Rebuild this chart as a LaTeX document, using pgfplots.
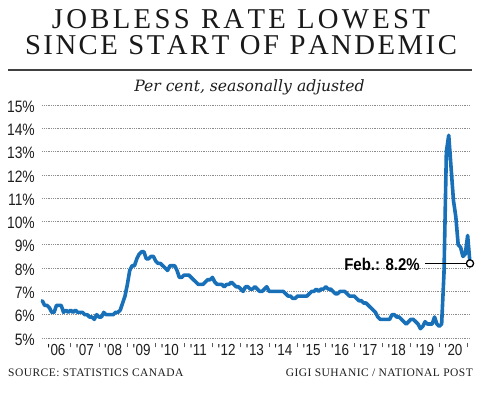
\documentclass[border=0pt]{standalone}
\usepackage{fontspec}
\usepackage{pgfplots}
\usepackage{pgfplotstable}
\pgfplotsset{compat=1.18}
\newfontfamily\cond{Liberation Sans}[FakeStretch=0.84]
\newfontfamily\condb{Liberation Sans}[FakeStretch=0.88]
\newfontfamily\tser{Liberation Serif}[LetterSpace=4]
\newfontfamily\ttlfont{Liberation Serif}
\newfontfamily\subfont{DejaVu Serif}
\definecolor{npblue}{RGB}{24,112,184}
\definecolor{txt}{RGB}{30,30,30}
\pgfplotstableread[row sep=\\]{
v\\
6.6\\6.4\\6.4\\6.3\\6.1\\6.1\\6.4\\6.4\\6.4\\6.1\\6.2\\6.1\\
6.2\\6.1\\6.2\\6.1\\6.1\\6.1\\6.0\\6.0\\5.9\\5.9\\5.8\\6.0\\
5.9\\5.9\\6.1\\6.0\\6.0\\6.0\\6.0\\6.1\\6.1\\6.2\\6.5\\6.8\\
7.3\\7.9\\8.1\\8.1\\8.4\\8.6\\8.7\\8.7\\8.4\\8.4\\8.5\\8.5\\
8.3\\8.2\\8.2\\8.1\\8.0\\7.9\\8.1\\8.1\\8.1\\7.9\\7.6\\7.6\\
7.7\\7.7\\7.7\\7.6\\7.5\\7.4\\7.3\\7.3\\7.3\\7.4\\7.5\\7.5\\
7.6\\7.4\\7.3\\7.3\\7.3\\7.2\\7.3\\7.3\\7.4\\7.3\\7.2\\7.2\\
7.1\\7.0\\7.2\\7.2\\7.1\\7.1\\7.2\\7.1\\7.0\\7.0\\7.1\\7.2\\
7.0\\7.0\\7.0\\7.0\\7.0\\7.0\\7.0\\6.9\\6.8\\6.8\\6.7\\6.7\\
6.8\\6.8\\6.8\\6.8\\6.8\\6.9\\7.0\\7.0\\7.1\\7.0\\7.1\\7.1\\
7.2\\7.1\\7.1\\7.0\\6.9\\6.9\\7.0\\7.0\\7.0\\6.9\\6.8\\6.8\\
6.8\\6.7\\6.6\\6.6\\6.5\\6.5\\6.4\\6.3\\6.2\\6.1\\5.9\\5.8\\
5.8\\5.8\\5.8\\5.8\\6.0\\6.0\\5.9\\5.9\\5.8\\5.7\\5.6\\5.7\\
5.8\\5.8\\5.7\\5.6\\5.4\\5.5\\5.7\\5.6\\5.6\\5.6\\5.9\\5.6\\
5.5\\5.6\\7.8\\13.0\\13.7\\12.3\\10.9\\10.2\\9.0\\8.9\\8.5\\8.6\\
9.4\\8.2\\
}\jobless
\begin{document}
\begin{tikzpicture}[x=1pt,y=1pt]
\useasboundingbox (0,0) rectangle (496,398);
\fill[white] (0,0) rectangle (496,398);
\node[anchor=base, inner sep=0, text=black!90] at (241,369.7)
  {\ttlfont\fontsize{28.7}{30}\selectfont\makebox[378pt][s]{J\hfill O\hfill B\hfill L\hfill E\hfill S\hfill S\hspace{8pt}\hfill R\hfill A\hfill T\hfill E\hspace{8pt}\hfill L\hfill O\hfill W\hfill E\hfill S\hfill T}};
\node[anchor=base, inner sep=0, text=black!90] at (241,343)
  {\ttlfont\fontsize{28.7}{30}\selectfont\makebox[432pt][s]{S\hfill I\hfill N\hfill C\hfill E\hspace{8pt}\hfill S\hfill T\hfill A\hfill R\hfill T\hspace{8pt}\hfill O\hfill F\hspace{8pt}\hfill P\hfill A\hfill N\hfill D\hfill E\hfill M\hfill I\hfill C}};
\draw[line width=1.3pt, black!75] (8,328) -- (472,328);
\node[anchor=base, inner sep=0, text=txt] at (249.5,306)
  {\subfont\fontsize{15.6}{17}\selectfont\itshape Per cent, seasonally adjusted};
\node[anchor=base west, inner sep=0, text=txt] at (8,21.3)
  {\tser\fontsize{11.5}{12}\selectfont SOURCE: STATISTICS CANADA};
\node[anchor=base east, inner sep=0, text=txt] at (473,21.3)
  {\tser\fontsize{11.5}{12}\selectfont GIGI SUHANIC / NATIONAL POST};
\begin{axis}[
  at={(42.3pt,55pt)}, anchor=south west, scale only axis,
  width=427.7pt, height=238pt,
  xmin=0, xmax=181, ymin=4.7854, ymax=15,
  clip=false,
  axis line style={draw=none},
  ytick={5,6,...,15},
  yticklabels={5\%,6\%,7\%,8\%,9\%,10\%,11\%,12\%,13\%,14\%,15\%},
  ymajorgrids,
  grid style={line width=0.6pt, black!45, dash pattern=on 0.7pt off 1.1pt},
  major tick length=0pt,
  xtick={6,18,...,174},
  xticklabels={\textquotesingle06,\textquotesingle07,\textquotesingle08,\textquotesingle09,\textquotesingle10,\textquotesingle11,\textquotesingle12,\textquotesingle13,\textquotesingle14,\textquotesingle15,\textquotesingle16,\textquotesingle17,\textquotesingle18,\textquotesingle19,\textquotesingle20},
  minor xtick={12,24,...,180},
  minor tick length=4.5pt,
  tick align=outside,
  xtick pos=bottom, ytick pos=left,
  minor x tick style={line width=0.9pt, black!65},
  yticklabel style={font=\cond\fontsize{16.5}{16}\selectfont, anchor=east, inner sep=0pt, xshift=-7.3pt, yshift=-1.5pt, text=txt},
  xticklabel style={font=\cond\fontsize{16}{16}\selectfont, anchor=base, inner sep=0pt, yshift=-13pt, text=txt},
]
\addplot[npblue, line width=3.6pt, line join=round, line cap=round] table[x expr=\coordindex, y=v] {\jobless};
\draw[line width=1.3pt, black] (axis cs:162,8.2) -- (axis cs:181,8.2);
\addplot[only marks, mark=*, mark size=3.6pt, mark options={fill=white, draw=black, line width=1.3pt}] coordinates {(181,8.2)};
\node[anchor=base east, inner sep=0, yshift=-6.6pt, font=\condb\bfseries\fontsize{17}{17}\selectfont, text=black] at (axis cs:159.8,8.2) {Feb.: 8.2\%};
\end{axis}
\end{tikzpicture}
\end{document}
